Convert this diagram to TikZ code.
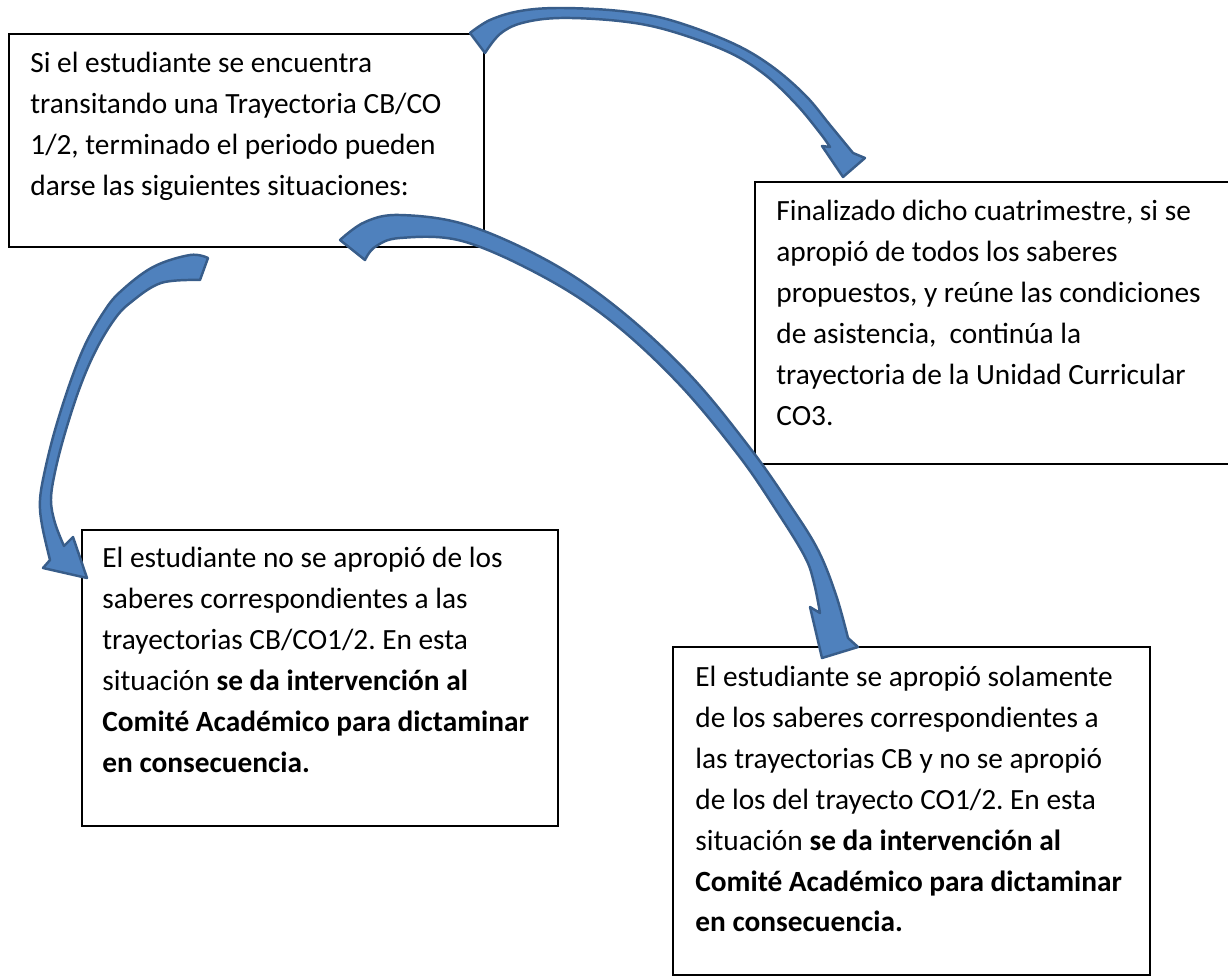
\documentclass[tikz,border=0pt]{standalone}
\usepackage{fontspec}
\setmainfont{Carlito}
\usetikzlibrary{fit}
\frenchspacing

\definecolor{arrowfill}{HTML}{4F81BD}
\definecolor{arrowline}{HTML}{385D8A}

\tikzset{
  infobox/.style={draw=black, line width=1.1pt, fill=white, inner sep=0pt},
  infotext/.style={anchor=north west, inner sep=0pt, align=left,
    font=\fontsize{16.7}{23.25}\selectfont},
  bentarrow/.style={fill=arrowfill, draw=arrowline, line width=1.4pt, line join=round}
}

\begin{document}
\begin{tikzpicture}[x=0.02cm, y=-0.02cm]
    \useasboundingbox (0,0) rectangle (1228,980);
    \clip (0,0) rectangle (1228,980);

    % Boxes
    \node[infobox, fit={(9,34) (484,247)}] (boxA) {};
    \node[infobox, fit={(755,182) (1240,464)}] (boxB) {};
    \node[infobox, fit={(82,530) (558,826)}] (boxC) {};
    \node[infobox, fit={(673,647) (1150,975)}] (boxD) {};

    % Texts
    \node[infotext] (txtA) at ([shift={(22,19)}]boxA.north west)
        {Si el estudiante se encuentra\\
         transitando una Trayectoria CB/CO\\
         1/2, terminado el periodo pueden\\
         darse las siguientes situaciones:};
    \node[infotext] (txtB) at ([shift={(22,19)}]boxB.north west)
        {Finalizado dicho cuatrimestre, si se\\
         apropió de todos los saberes\\
         propuestos, y reúne las condiciones\\
         de asistencia,\ \ continúa la\\
         trayectoria de la Unidad Curricular\\
         CO3.};
    \node[infotext] (txtC) at ([shift={(21,18)}]boxC.north west)
        {El estudiante no se apropió de los\\
         saberes correspondientes a las\\
         trayectorias CB/CO1/2. En esta\\
         situación \textbf{se da intervención al}\\
         \textbf{Comité Académico para dictaminar}\\
         \textbf{en consecuencia.}};
    \node[infotext] (txtD) at ([shift={(23,20)}]boxD.north west)
        {El estudiante se apropió solamente\\
         de los saberes correspondientes a\\
         las trayectorias CB y no se apropió\\
         de los del trayecto CO1/2. En esta\\
         situación \textbf{se da intervención al}\\
         \textbf{Comité Académico para dictaminar}\\
         \textbf{en consecuencia.}};

    % Curved arrow over the top
    \filldraw[bentarrow]
        plot[smooth, tension=0.6] coordinates {(470,33) (490,20) (520,11) (560,8) (620,11)
            (670,20) (730,42) (770,65) (805,95) (830,125) (853,153)}
        -- (865,158) -- (843,177) -- (822,146) -- (830,147)
        -- plot[smooth, tension=0.6] coordinates {(830,147) (820,133) (796,104) (764,74)
            (726,51) (667,30) (619,21) (560,18) (522,23) (500,34) (485,53)}
        -- cycle;

    % Curved arrow on the left
    \filldraw[bentarrow]
        plot[smooth, tension=0.6] coordinates {(208,258) (190,255) (153,267) (120,292)
            (103,313) (85,345) (70,383) (55,430) (45,470) (40,500) (42,525) (50,560)}
        -- (43,568) -- (87,578) -- (73,537) -- (64,546)
        -- plot[smooth, tension=0.6] coordinates {(64,546) (55,523) (51,500) (55,472)
            (65,433) (80,387) (96,350) (114,320) (130,303) (161,283) (200,280)}
        -- cycle;

    % Long arrow to the lower right
    \filldraw[bentarrow]
        plot[smooth, tension=0.6] coordinates {(340,240) (365,222) (400,215) (467,225)
            (550,262) (620,310) (690,375) (750,448) (790,505) (818,550) (836,595) (848,638)}
        -- (858,647) -- (822,658) -- (810,607) -- (820,613)
        -- plot[smooth, tension=0.6] coordinates {(820,613) (814,583) (805,557) (778,513)
            (739,456) (679,384) (611,321) (542,276) (462,241) (400,238) (375,247) (365,260)}
        -- cycle;
\end{tikzpicture}
\end{document}
